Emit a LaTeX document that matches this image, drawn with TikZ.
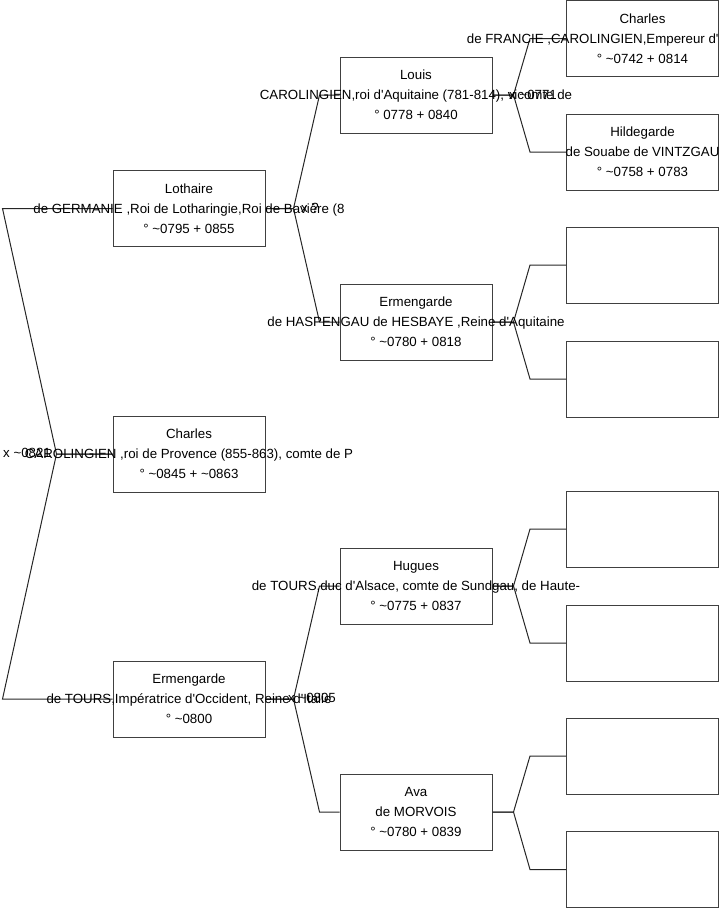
\documentclass[tikz,border=0pt]{standalone}
\usepackage{fontspec}
\newfontfamily\pfont{Liberation Sans}
\newcommand{\ca}{\textasciitilde}

\begin{document}
\begin{tikzpicture}[x=1pt, y=-1pt,
    pbox/.style={draw=black!75, line width=1pt, minimum width=152pt, minimum height=76pt, inner sep=0pt},
    ptext/.style={align=center, font=\pfont\fontsize{13.3}{20}\selectfont, inner sep=0pt},
    link/.style={draw=black!85, line width=1pt},
    mlabel/.style={font=\pfont\fontsize{13.3}{16}\selectfont, inner sep=0pt}]
  \useasboundingbox (0,0) rectangle (719,908);

  % boxes
  \node[pbox] (lothaire) at (189,208.5) {};
  \node[pbox] (charles) at (189,454) {};
  \node[pbox] (ermB) at (189,699) {};

  \node[pbox] (louis) at (416,95) {};
  \node[pbox] (ermT) at (416,322) {};
  \node[pbox] (hugues) at (416,586) {};
  \node[pbox] (ava) at (416,812) {};

  \node[pbox] (charlesF) at (642.5,38.5) {};
  \node[pbox] (hildegarde) at (642.5,152) {};
  \node[pbox] (p5) at (642.5,265) {};
  \node[pbox] (p6) at (642.5,379) {};
  \node[pbox] (p7) at (642.5,529) {};
  \node[pbox] (p8) at (642.5,643) {};
  \node[pbox] (p9) at (642.5,756) {};
  \node[pbox] (p10) at (642.5,869.5) {};

  % forks
  \draw[link] (charles.west) -- ++(-56,0) -- ([xshift=-110pt]lothaire.west) -- (lothaire.west);
  \draw[link] (charles.west) -- ++(-56,0) -- ([xshift=-110pt]ermB.west) -- (ermB.west);
  \foreach \c/\a/\b in {lothaire/louis/ermT, ermB/hugues/ava} {
    \draw[link] (\c.east) -- ++(28,0) -- ([xshift=-20pt]\a.west) -- (\a.west);
    \draw[link] (\c.east) -- ++(28,0) -- ([xshift=-20pt]\b.west) -- (\b.west);
  }
  \foreach \c/\a/\b in {louis/charlesF/hildegarde, ermT/p5/p6, hugues/p7/p8, ava/p9/p10} {
    \draw[link] (\c.east) -- ++(21,0) -- ([xshift=-36pt]\a.west) -- (\a.west);
    \draw[link] (\c.east) -- ++(21,0) -- ([xshift=-36pt]\b.west) -- (\b.west);
  }

  % texts
  \node[ptext] (lothaire-t) at (lothaire) {Lothaire\\de GERMANIE ,Roi de Lotharingie,Roi de Bavière (8\\° \ca0795 + 0855};
  \node[ptext] (charles-t) at (charles) {Charles\\CAROLINGIEN ,roi de Provence (855-863), comte de P\\° \ca0845 + \ca0863};
  \node[ptext] (ermB-t) at (ermB) {Ermengarde\\de TOURS,Impératrice d'Occident, Reine d'Italie\\° \ca0800};
  \node[ptext] (louis-t) at (louis) {Louis\\CAROLINGIEN,roi d'Aquitaine (781-814), vicomte de\\° 0778 + 0840};
  \node[ptext] (ermT-t) at (ermT) {Ermengarde\\de HASPENGAU de HESBAYE ,Reine d'Aquitaine\\° \ca0780 + 0818};
  \node[ptext] (hugues-t) at (hugues) {Hugues\\de TOURS,duc d'Alsace, comte de Sundgau, de Haute-\\° \ca0775 + 0837};
  \node[ptext] (ava-t) at (ava) {Ava\\de MORVOIS\\° \ca0780 + 0839};
  \node[ptext] (charlesF-t) at (charlesF) {Charles\\\makebox[152pt][r]{de FRANCIE ,CAROLINGIEN,Empereur d'}\\° \ca0742 + 0814};
  \node[ptext] (hildegarde-t) at (hildegarde) {Hildegarde\\de Souabe de VINTZGAU\\° \ca0758 + 0783};

  % marriages
  \node[mlabel, anchor=west] (m1) at (3,453) {x \ca0821};
  \node[mlabel] (m2) at (310,208) {x ?};
  \node[mlabel] (m3) at (533,95) {x \ca0771};
  \node[mlabel] (m4) at (312,698) {x \ca0805};
\end{tikzpicture}
\end{document}
